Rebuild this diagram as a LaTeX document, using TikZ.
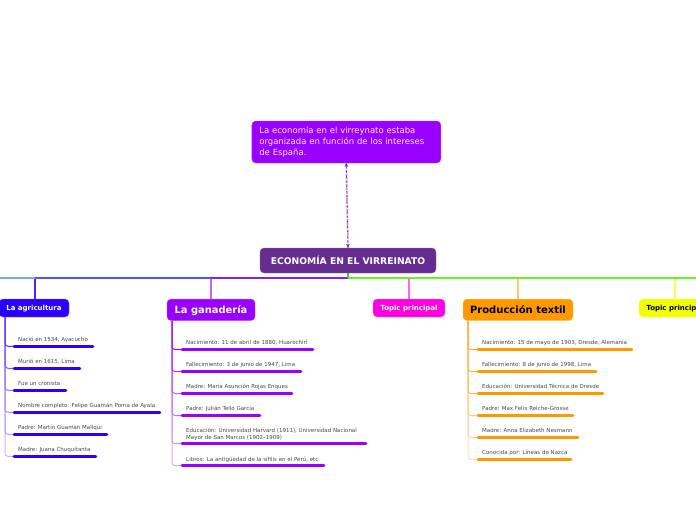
\documentclass[tikz,border=0pt]{standalone}
\usepackage{fontspec}
\setmainfont{DejaVu Sans}
\definecolor{rootpurple}{HTML}{662D91}
\definecolor{notepurple}{HTML}{9900FF}
\definecolor{dashpurple}{HTML}{BE96DE}
\definecolor{agriblue}{HTML}{2A00FF}
\definecolor{ganapurple}{HTML}{9900FF}
\definecolor{topicpink}{HTML}{FF00E0}
\definecolor{textilorange}{HTML}{FF9900}
\definecolor{topicyellow}{HTML}{F2FF00}
\definecolor{busgreen}{HTML}{66F522}
\definecolor{busfar}{HTML}{74AEFF}
\definecolor{busblue}{HTML}{5055FF}
\definecolor{busviolet}{HTML}{7A22FF}
\tikzset{
	box/.style={rectangle,rounded corners=4pt,inner sep=0pt,align=center,font=\bfseries},
	leaf/.style={anchor=west,inner sep=0pt,align=left,text=black!72,font=\fontsize{5.5}{7.2}\selectfont},
	smallhead/.style={box,minimum height=18pt,text depth=0pt,font=\fontsize{7}{8}\selectfont\bfseries},
	bighead/.style={box,minimum height=21.5pt,text depth=0pt},
	under/.style={line width=2.6pt,line cap=round},
	trunk/.style={line width=1pt,rounded corners=3pt},
	drop/.style={line width=1.3pt,rounded corners=2pt},
	busline/.style={line width=2.2pt}
}
\begin{document}
\begin{tikzpicture}[x=1pt,y=-1pt]
	\useasboundingbox (0,0) rectangle (696,520);
	% main nodes
	\node [box,fill=notepurple,draw=notepurple!75,text=white!92!notepurple,minimum width=189pt,minimum height=42pt,font=\fontsize{8.5}{10.7}\selectfont,align=left,text width=174pt] (note) at (346.3,142) {La economía en el virreynato estaba\\organizada en función de los intereses\\de España.};
	\node [box,fill=rootpurple,draw=rootpurple!75,text=white,minimum width=176pt,minimum height=25pt,text depth=0pt,font=\fontsize{9.2}{10}\selectfont\bfseries] (root) at (348,260.5) {ECONOMÍA EN EL VIRREINATO};
	\draw [line width=1.7pt,dashpurple,dash pattern=on 2.5pt off 1pt] (note.south) -- (root.north);
	\draw [<->,>=stealth,line width=.7pt,rootpurple,dash pattern=on 2pt off 3pt] (note.south) -- (root.north);
	% bus
	\coordinate (hub) at (348,278);
	\coordinate (busleft) at (0,278);
	\coordinate (busright) at (696,278);
	\coordinate (agrtop) at (35,278);
	\coordinate (gantop) at (211,278);
	\coordinate (toptop) at (409,278);
	\coordinate (textop) at (518,278);
	\coordinate (yeltop) at (675,278);
	\node [smallhead,fill=agriblue,draw=agriblue!60,text=white,minimum width=70pt] (agr) at (34,308) {La agricultura};
	\node [bighead,fill=ganapurple,draw=ganapurple!70,text=white,minimum width=88pt,font=\fontsize{9.9}{12}\selectfont\bfseries] (gan) at (211,309.8) {La ganadería};
	\node [smallhead,fill=topicpink,draw=topicpink!50,text=white,minimum width=72pt] (pink) at (409,308) {Topic principal};
	\node [bighead,fill=textilorange,draw=textilorange!60,text=black,minimum width=110pt,font=\fontsize{10}{12}\selectfont\bfseries] (tex) at (518,309.8) {Producción textil};
	\node [smallhead,fill=topicyellow,draw=topicyellow!60,text=black,minimum width=72pt] (yel) at (675,308) {Topic principal};
	\draw [drop,agriblue!85] (agr.north -| agrtop) -- (agrtop);
	\draw [drop,ganapurple!60] (gan.north) -- (gantop);
	\draw [drop,topicpink!60] (pink.north) -- (toptop);
	\draw [drop,textilorange!55] (tex.north) -- (textop);
	\draw [drop,topicyellow!65] (yel.north) -- (yeltop);
	\draw [busline,busfar] (busleft) -- (agrtop);
	\draw [busline,busblue] (agrtop) -- (gantop);
	\draw [busline,busviolet] (gantop) -- (hub);
	\draw [busline,busgreen] (hub) -- (busright);
	\draw [line width=1.3pt,busgreen!80!black] (root.south) -- (hub);
	% la agricultura
	\node [leaf] (agr1) at (18,339.5) {Nació en 1534, Ayacucho};
	\node [leaf] (agr2) at (18,361.5) {Murió en 1615, Lima};
	\node [leaf] (agr3) at (18,383.5) {Fue un cronista};
	\node [leaf] (agr4) at (18,405.5) {Nombre completo: Felipe Guamán Poma de Ayala};
	\node [leaf] (agr5) at (18,427.5) {Padre: Martín Guaman Mallqui};
	\node [leaf] (agr6) at (18,449.5) {Madre: Juana Chuquitanta};
	\coordinate (agrt) at (5,317);
	\coordinate (agr1a) at (14,346.3); \coordinate (agr1b) at (93,346.3);
	\coordinate (agr2a) at (14,368.3); \coordinate (agr2b) at (80,368.3);
	\coordinate (agr3a) at (14,390.3); \coordinate (agr3b) at (66,390.3);
	\coordinate (agr4a) at (14,412.3); \coordinate (agr4b) at (160,412.3);
	\coordinate (agr5a) at (14,434.3); \coordinate (agr5b) at (107,434.3);
	\coordinate (agr6a) at (14,456.3); \coordinate (agr6b) at (96,456.3);
	\draw [trunk,agriblue!30] (agrt) |- (agr6a);
	\draw [trunk,agriblue!36] (agrt) |- (agr5a);
	\draw [trunk,agriblue!44] (agrt) |- (agr4a);
	\draw [trunk,agriblue!52] (agrt) |- (agr3a);
	\draw [trunk,agriblue!64] (agrt) |- (agr2a);
	\draw [trunk,agriblue!80] (agrt) |- (agr1a);
	\draw [under,agriblue] (agr1a) -- (agr1b);
	\draw [under,agriblue] (agr2a) -- (agr2b);
	\draw [under,agriblue] (agr3a) -- (agr3b);
	\draw [under,agriblue] (agr4a) -- (agr4b);
	\draw [under,agriblue] (agr5a) -- (agr5b);
	\draw [under,agriblue] (agr6a) -- (agr6b);
	% la ganaderia
	\node [leaf] (gan1) at (186,342.8) {Nacimiento: 11 de abril de 1880, Huarochirí};
	\node [leaf] (gan2) at (186,364.8) {Fallecimiento: 3 de junio de 1947, Lima};
	\node [leaf] (gan3) at (186,386.8) {Madre: María Asunción Rojas Enques};
	\node [leaf] (gan4) at (186,408.8) {Padre: Julián Tello García};
	\node [leaf] (gan5) at (186,434.3) {Educación: Universidad Harvard (1911), Universidad Nacional\\Mayor de San Marcos (1902--1909)};
	\node [leaf] (gan6) at (186,459.8) {Libros: La antigüedad de la sífilis en el Perú, etc};
	\coordinate (gant) at (172,320.5);
	\coordinate (gan1a) at (182,349.5); \coordinate (gan1b) at (313,349.5);
	\coordinate (gan2a) at (182,371.5); \coordinate (gan2b) at (301,371.5);
	\coordinate (gan3a) at (182,393.5); \coordinate (gan3b) at (292,393.5);
	\coordinate (gan4a) at (182,415.5); \coordinate (gan4b) at (260,415.5);
	\coordinate (gan5a) at (182,443.7); \coordinate (gan5b) at (366,443.7);
	\coordinate (gan6a) at (182,465.7); \coordinate (gan6b) at (324,465.7);
	\draw [trunk,ganapurple!35] (gant) |- (gan6a);
	\draw [trunk,ganapurple!45] (gant) |- (gan5a);
	\draw [trunk,ganapurple!55] (gant) |- (gan4a);
	\draw [trunk,ganapurple!65] (gant) |- (gan3a);
	\draw [trunk,ganapurple!80] (gant) |- (gan2a);
	\draw [trunk,ganapurple!95] (gant) |- (gan1a);
	\draw [under,ganapurple] (gan1a) -- (gan1b);
	\draw [under,ganapurple] (gan2a) -- (gan2b);
	\draw [under,ganapurple] (gan3a) -- (gan3b);
	\draw [under,ganapurple] (gan4a) -- (gan4b);
	\draw [under,ganapurple] (gan5a) -- (gan5b);
	\draw [under,ganapurple] (gan6a) -- (gan6b);
	% produccion textil
	\node [leaf] (tex1) at (482,342.8) {Nacimiento: 15 de mayo de 1903, Dresde, Alemania};
	\node [leaf] (tex2) at (482,364.8) {Fallecimiento: 8 de junio de 1998, Lima};
	\node [leaf] (tex3) at (482,386.8) {Educación: Universidad Técnica de Dresde};
	\node [leaf] (tex4) at (482,408.8) {Padre: Max Felix Reiche-Grosse};
	\node [leaf] (tex5) at (482,430.8) {Madre: Anna Elizabeth Nesmann};
	\node [leaf] (tex6) at (482,452.8) {Conocida por: Líneas de Nazca};
	\coordinate (text) at (468,320.5);
	\coordinate (tex1a) at (478,349.5); \coordinate (tex1b) at (632,349.5);
	\coordinate (tex2a) at (478,371.5); \coordinate (tex2b) at (596,371.5);
	\coordinate (tex3a) at (478,393.5); \coordinate (tex3b) at (603,393.5);
	\coordinate (tex4a) at (478,415.5); \coordinate (tex4b) at (573,415.5);
	\coordinate (tex5a) at (478,437.5); \coordinate (tex5b) at (578,437.5);
	\coordinate (tex6a) at (478,459.5); \coordinate (tex6b) at (571,459.5);
	\draw [trunk,textilorange!30] (text) |- (tex6a);
	\draw [trunk,textilorange!40] (text) |- (tex5a);
	\draw [trunk,textilorange!50] (text) |- (tex4a);
	\draw [trunk,textilorange!60] (text) |- (tex3a);
	\draw [trunk,textilorange!70] (text) |- (tex2a);
	\draw [trunk,textilorange!80] (text) |- (tex1a);
	\draw [under,textilorange] (tex1a) -- (tex1b);
	\draw [under,textilorange] (tex2a) -- (tex2b);
	\draw [under,textilorange] (tex3a) -- (tex3b);
	\draw [under,textilorange] (tex4a) -- (tex4b);
	\draw [under,textilorange] (tex5a) -- (tex5b);
	\draw [under,textilorange] (tex6a) -- (tex6b);
\end{tikzpicture}
\end{document}
